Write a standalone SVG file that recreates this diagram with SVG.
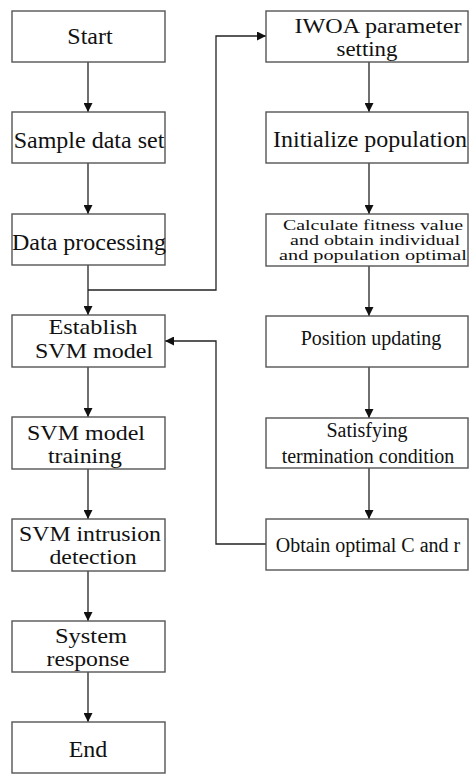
<svg xmlns="http://www.w3.org/2000/svg" width="469" height="774" viewBox="0 0 469 774">
<style>
.box{fill:#fff;stroke:#555;stroke-width:1.4}
.t{font-family:"Liberation Serif","Times New Roman",serif;font-size:24px;fill:#111;text-anchor:middle}
.s{font-size:20px}
.m{font-size:21px}
.c{font-size:15px}
.ln{fill:none;stroke:#222;stroke-width:1.3}
</style>
<defs>
<marker id="ah" viewBox="0 0 10 10" refX="10" refY="5" markerWidth="9" markerHeight="9" markerUnits="userSpaceOnUse" orient="auto">
<path d="M0,0 L10,5 L0,10 z" fill="#111"/>
</marker>
</defs>
<rect width="469" height="774" fill="#fff"/>
<g id="connectors">
<line class="ln" x1="88" y1="62" x2="88" y2="112" marker-end="url(#ah)"/>
<line class="ln" x1="88" y1="163" x2="88" y2="214" marker-end="url(#ah)"/>
<line class="ln" x1="88" y1="265" x2="88" y2="315" marker-end="url(#ah)"/>
<polyline class="ln" points="88,290 216,290 216,36 266,36" marker-end="url(#ah)"/>
<line class="ln" x1="88" y1="367" x2="88" y2="417" marker-end="url(#ah)"/>
<line class="ln" x1="88" y1="469" x2="88" y2="519" marker-end="url(#ah)"/>
<line class="ln" x1="88" y1="571" x2="88" y2="621" marker-end="url(#ah)"/>
<line class="ln" x1="88" y1="672" x2="88" y2="722" marker-end="url(#ah)"/>
<line class="ln" x1="369" y1="62" x2="369" y2="112" marker-end="url(#ah)"/>
<line class="ln" x1="369" y1="163" x2="369" y2="214" marker-end="url(#ah)"/>
<line class="ln" x1="369" y1="266" x2="369" y2="316" marker-end="url(#ah)"/>
<line class="ln" x1="369" y1="367" x2="369" y2="418" marker-end="url(#ah)"/>
<line class="ln" x1="369" y1="468" x2="369" y2="519" marker-end="url(#ah)"/>
<polyline class="ln" points="266,544 216,544 216,341 165,341" marker-end="url(#ah)"/>
</g>
<g id="start"><rect class="box" x="12" y="11" width="153" height="51"/><text class="t" x="90" y="44">Start</text></g>
<g id="sample"><rect class="box" x="12" y="112" width="153" height="51"/><text class="t" x="89" y="148">Sample data set</text></g>
<g id="dataproc"><rect class="box" x="12" y="214" width="153" height="51"/><text class="t" x="89" y="250">Data processing</text></g>
<g id="establish"><rect class="box" x="12" y="315" width="153" height="52"/><text class="t m" x="93" y="334" textLength="89" lengthAdjust="spacingAndGlyphs">Establish</text><text class="t m" x="94" y="358" textLength="118" lengthAdjust="spacingAndGlyphs">SVM model</text></g>
<g id="training"><rect class="box" x="12" y="417" width="153" height="52"/><text class="t m" x="86" y="440" textLength="118" lengthAdjust="spacingAndGlyphs">SVM model</text><text class="t m" x="85" y="463" textLength="74" lengthAdjust="spacingAndGlyphs">training</text></g>
<g id="intrusion"><rect class="box" x="12" y="519" width="153" height="52"/><text class="t m" x="90" y="541" textLength="142" lengthAdjust="spacingAndGlyphs">SVM intrusion</text><text class="t m" x="93" y="564" textLength="87" lengthAdjust="spacingAndGlyphs">detection</text></g>
<g id="response"><rect class="box" x="12" y="621" width="153" height="51"/><text class="t m" x="91" y="643" textLength="72" lengthAdjust="spacingAndGlyphs">System</text><text class="t m" x="88" y="666" textLength="83" lengthAdjust="spacingAndGlyphs">response</text></g>
<g id="end"><rect class="box" x="12" y="722" width="153" height="51"/><text class="t" x="88" y="757">End</text></g>
<g id="iwoa"><rect class="box" x="266" y="11" width="202" height="51"/><text class="t m" x="378" y="33" textLength="167" lengthAdjust="spacingAndGlyphs">IWOA parameter</text><text class="t m" x="367" y="56" textLength="61" lengthAdjust="spacingAndGlyphs">setting</text></g>
<g id="init"><rect class="box" x="266" y="112" width="202" height="51"/><text class="t" x="370" y="147">Initialize population</text></g>
<g id="fitness"><rect class="box" x="266" y="214" width="202" height="52"/><text class="t c" x="373" y="230" textLength="180" lengthAdjust="spacingAndGlyphs">Calculate fitness value</text><text class="t c" x="375" y="245" textLength="170" lengthAdjust="spacingAndGlyphs">and obtain individual</text><text class="t c" x="373" y="260" textLength="188" lengthAdjust="spacingAndGlyphs">and population optimal</text></g>
<g id="position"><rect class="box" x="266" y="316" width="202" height="51"/><text class="t s" x="371" y="345">Position updating</text></g>
<g id="satisfy"><rect class="box" x="266" y="418" width="202" height="50"/><text class="t s" x="367" y="437">Satisfying</text><text class="t s" x="368" y="463">termination condition</text></g>
<g id="optimal"><rect class="box" x="266" y="519" width="202" height="51"/><text class="t s" x="368" y="552">Obtain optimal C and r</text></g>
</svg>
